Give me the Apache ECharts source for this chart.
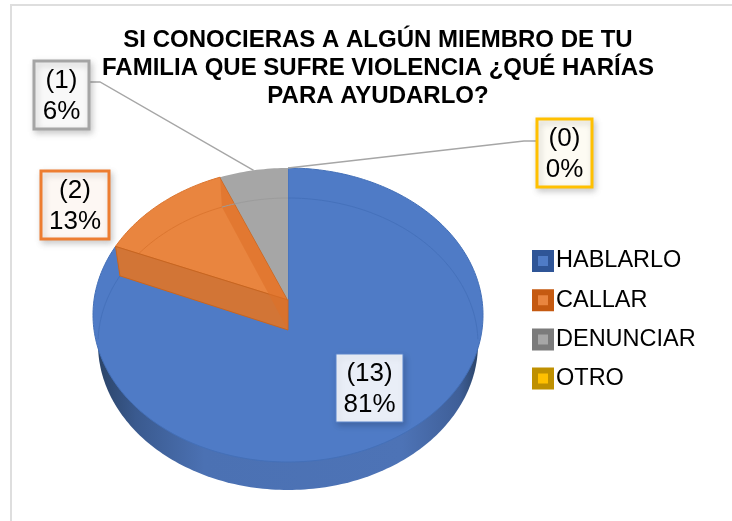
<!DOCTYPE html>
<html><head><meta charset="utf-8">
<style>html,body{margin:0;padding:0;background:#fff}#c{width:732px;height:521px}</style>
<script src="https://cdn.jsdelivr.net/npm/echarts@6/dist/echarts.min.js"></script>
</head><body><div id="c"></div>
<script>
const titleText = 'SI CONOCIERAS A ALGÚN MIEMBRO DE TU\nFAMILIA QUE SUFRE VIOLENCIA ¿QUÉ HARÍAS\nPARA AYUDARLO?';
const categories = ['HABLARLO', 'CALLAR', 'DENUNCIAR', 'OTRO'];
const values = [13, 2, 1, 0];

// Styling and layout (separate from data)
const faceColors = ['#4f7bc6', '#e9853f', '#a6a6a6', '#ffc000'];
const ringColors = ['#4571bb', '#dc7630', '#9c9c9c', '#e8ae00'];
const legendDark = ['#2f5597', '#c55a11', '#7b7b7b', '#bf9000'];
const boxFills = ['#e9eef7', '#fdf7f3', '#f8f8f8', '#fdfbf3'];
const boxBorders = ['#5b85cc', '#ed7d31', '#a5a5a5', '#ffc000'];
const boxes = [[336, 354, 67, 68], [41, 171, 68, 68], [34, 61, 55, 68], [537, 119, 55, 68]];
const leaderElbows = [null, null, [100, 82], [524, 141]];
const leaderStarts = [null, null, [89, 82], [537, 141]];
const PIE = {cx: 288, cy: 315, rx: 195, ry: 147, depth: 29, rxLow: 190, ryLow: 146, tilt: 0.102, tipDepth: 30};

const total = values.reduce((a, b) => a + b, 0);
function cumBefore(i) { let s = 0; for (let k = 0; k < i; k++) s += values[k]; return s; }
function proj(t, low) {
  const u = Math.sin(t), v = Math.cos(t), a = PIE.tilt, d = 1 + a * v;
  const up = u * Math.sqrt(1 - a * a) / d, vp = (v + a) / d;
  return [PIE.cx + (low ? PIE.rxLow : PIE.rx) * up, PIE.cy + (low ? PIE.depth : 0) - (low ? PIE.ryLow : PIE.ry) * vp];
}
function arc(t0, t1, low) {
  const n = Math.max(2, Math.ceil(Math.abs(t1 - t0) / 0.02)), r = [];
  for (let i = 0; i <= n; i++) r.push(proj(t0 + (t1 - t0) * i / n, low));
  return r;
}
const rad = d => d * Math.PI / 180;
function tip(low) { const p = [PIE.cx, PIE.cy - PIE.ry * PIE.tilt]; if (low) p[1] += PIE.tipDepth; return p; }

function makeRender(i) {
  return function (params, api) {
    const val = api.value(0);
    const t0 = cumBefore(i) / total * 2 * Math.PI;
    const t1 = t0 + val / total * 2 * Math.PI;
    const ch = [];
    const poly = (pts, fill, stroke, lw) => ch.push({type: 'polygon', shape: {points: pts}, style: {fill: fill, stroke: stroke || null, lineWidth: lw || 0}});
    const line = (pts, stroke, lw) => ch.push({type: 'polyline', shape: {points: pts}, style: {fill: null, stroke: stroke, lineWidth: lw}});
    if (val > 0 && i === 0) {
      poly(arc(rad(90), rad(270), true), new echarts.graphic.LinearGradient(0, 0, 1, 0, [
        {offset: 0, color: '#2b4468'}, {offset: 0.1, color: '#3a5a8f'}, {offset: 0.28, color: '#4b71b3'},
        {offset: 0.8, color: '#4d73b6'}, {offset: 0.95, color: '#3f5f98'}, {offset: 1, color: '#2b4468'}]));
      poly(arc(t0, t1, false).concat([tip(false)]), faceColors[0], '#4470b8', 1);
      line(arc(rad(0), rad(94), true), ringColors[0], 1);
      line(arc(rad(266), t1, true), ringColors[0], 1);
    }
    if (val > 0 && i === 1) {
      poly(arc(t0, t1, false).concat([tip(false)]), faceColors[1], '#dc7630', 1);
      line(arc(t0, t1, true), ringColors[1], 1);
      // wall below the cut on the blue side
      const wallTop = proj(t0, false), wallLow = proj(t0, true);
      poly([wallTop, tip(false), tip(true), wallLow], '#d27536', '#c8651f', 1);
      // wall on the grey side, seen through the face
      const sideTop = proj(t1, false), sideLow = proj(t1, true);
      poly([sideTop, tip(false), tip(true), sideLow], 'rgba(222,112,40,0.6)', null, 0);
      line([sideTop, tip(false)], '#c8651f', 1.2);
    }
    if (val > 0 && i === 2) {
      poly(arc(t0, t1, false).concat([tip(false)]), faceColors[2], null, 0);
      line(arc(t0, t1, true), ringColors[2], 1);
    }
    if (leaderStarts[i]) {
      const mid = (t0 + t1) / 2;
      line([leaderStarts[i], leaderElbows[i], proj(mid, false)], '#a6a6a6', 1.4);
    }
    return {type: 'group', children: ch};
  };
}
function makeLabel(i) {
  return function (params, api) {
    const val = api.value(0);
    const b = boxes[i];
    return {type: 'group', children: [
      {type: 'rect', shape: {x: b[0], y: b[1], width: b[2], height: b[3]},
        style: {fill: boxFills[i], stroke: boxBorders[i], lineWidth: i === 0 ? 1 : 3,
          shadowBlur: 6, shadowOffsetX: 2, shadowOffsetY: 3, shadowColor: 'rgba(0,0,0,0.18)'}},
      {type: 'text', style: {x: b[0] + b[2] / 2, y: b[1] + b[3] / 2 + 1,
        text: '(' + val + ')\n' + Math.round(val / total * 100) + '%',
        fill: '#000', align: 'center', verticalAlign: 'middle',
        font: '26px "Liberation Sans"', lineHeight: 31}}
    ]};
  };
}
const series = categories.map((name, i) => ({
  type: 'custom', name: name, coordinateSystem: 'none', silent: true, z: 2 + i * 0.01,
  itemStyle: {color: faceColors[i]}, data: [[values[i]]], renderItem: makeRender(i), animation: false
})).concat(categories.map((name, i) => ({
  type: 'custom', name: name + ' etiqueta', coordinateSystem: 'none', silent: true, z: 5,
  data: [[values[i]]], renderItem: makeLabel(i), animation: false
})));

const chart = echarts.init(document.getElementById('c'), null, {renderer: 'canvas'});
chart.setOption({
  animation: false,
  backgroundColor: '#fff',
  graphic: [{type: 'rect', z: 0, shape: {x: 11, y: 5, width: 740, height: 540},
    style: {fill: '#fff', stroke: '#dedede', lineWidth: 2}}],
  title: {text: titleText, left: 373, top: 21, textAlign: 'center',
    textStyle: {fontFamily: 'Liberation Sans', fontWeight: 'bold', fontSize: 24, lineHeight: 28, color: '#000'}},
  legend: {
    orient: 'vertical', left: 527, top: 244, itemGap: 15.2, itemWidth: 16, itemHeight: 16,
    selectedMode: false, icon: 'rect',
    textStyle: {fontFamily: 'Liberation Sans', fontSize: 23.5, color: '#000'},
    data: categories.map((n, i) => ({name: n, itemStyle: {color: faceColors[i], borderColor: legendDark[i], borderWidth: 6}}))
  },
  series: series
});
</script></body></html>
